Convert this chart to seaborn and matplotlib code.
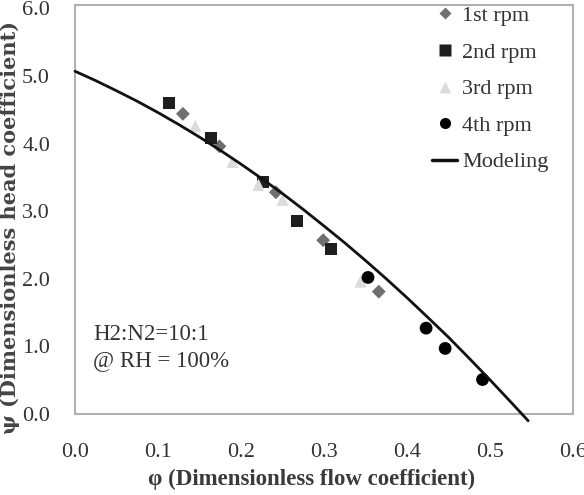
import numpy as np
import pandas as pd
import matplotlib
matplotlib.use("Agg")
import matplotlib.pyplot as plt
import seaborn as sns
from matplotlib.lines import Line2D

# ---- data ----
series_names = ["1st rpm", "2nd rpm", "3rd rpm", "4th rpm"]
phi_1st = [0.130, 0.174, 0.242, 0.299, 0.366]
psi_1st = [4.44, 3.96, 3.28, 2.57, 1.81]
phi_2nd = [0.113, 0.164, 0.226, 0.268, 0.308]
psi_2nd = [4.60, 4.08, 3.43, 2.86, 2.44]
phi_3rd = [0.145, 0.190, 0.221, 0.250, 0.344]
psi_3rd = [4.26, 3.73, 3.39, 3.17, 1.96]
phi_4th = [0.353, 0.423, 0.446, 0.491]
psi_4th = [2.02, 1.27, 0.97, 0.51]
phi_model = [0.0, 0.025, 0.05, 0.075, 0.10, 0.125, 0.15, 0.175, 0.20, 0.225, 0.25,
             0.275, 0.30, 0.325, 0.35, 0.375, 0.40, 0.425, 0.45, 0.475, 0.50, 0.525, 0.546]
psi_model = [5.07, 4.931, 4.781, 4.626, 4.459, 4.282, 4.096, 3.901, 3.696, 3.482, 3.260,
             3.026, 2.781, 2.532, 2.270, 2.000, 1.720, 1.430, 1.135, 0.823, 0.505, 0.178, -0.10]
x_ticks = [0.0, 0.1, 0.2, 0.3, 0.4, 0.5, 0.6]
y_ticks = [0.0, 1.0, 2.0, 3.0, 4.0, 5.0, 6.0]

df = pd.concat([
    pd.DataFrame({"phi": phi_1st, "psi": psi_1st, "series": "1st rpm"}),
    pd.DataFrame({"phi": phi_2nd, "psi": psi_2nd, "series": "2nd rpm"}),
    pd.DataFrame({"phi": phi_3rd, "psi": psi_3rd, "series": "3rd rpm"}),
    pd.DataFrame({"phi": phi_4th, "psi": psi_4th, "series": "4th rpm"}),
], ignore_index=True)
model_df = pd.DataFrame({"phi": phi_model, "psi": psi_model})

colors = {"1st rpm": "#6f6f6f", "2nd rpm": "#1e1e1e", "3rd rpm": "#dcdcdc", "4th rpm": "#000000"}
markers = {"1st rpm": "D", "2nd rpm": "s", "3rd rpm": "^", "4th rpm": "o"}
sizes = {"1st rpm": 50, "2nd rpm": 75, "3rd rpm": 80, "4th rpm": 85}

sns.set_style("white")
serif = ["Liberation Serif", "DejaVu Serif"]
plt.rcParams["font.family"] = serif

fig = plt.figure(figsize=(5.84, 4.95), dpi=100)
ax = fig.add_axes([75 / 584, 81 / 495, 498 / 584, 409 / 495])

sns.lineplot(data=model_df, x="phi", y="psi", ax=ax, color="#111111", lw=2.0,
             clip_on=False, zorder=3, legend=False)
for name in series_names:
    sub = df[df["series"] == name]
    sns.scatterplot(data=sub, x="phi", y="psi", ax=ax, color=colors[name],
                    marker=markers[name], s=sizes[name], edgecolor="none",
                    zorder=2, legend=False)

ax.set_xlim(0, 0.6)
ax.set_ylim(0, 6.05)
ax.set_xticks(x_ticks)
ax.set_yticks(y_ticks)
ax.set_xticklabels([f"{v:.1f}" for v in x_ticks])
ax.set_yticklabels([f"{v:.1f}" for v in y_ticks])
ax.tick_params(axis="both", direction="in", length=6, width=1.2, color="#aaaaaa",
               labelsize=16, labelcolor="#333333")
ax.tick_params(axis="x", pad=21)
ax.tick_params(axis="y", pad=18)
for sp in ax.spines.values():
    sp.set_color("#b0b0b0")
    sp.set_linewidth(1.5)
    sp.set_visible(True)

ax.set_xlabel("φ (Dimensionless flow coefficient)", fontsize=16.5, fontweight="bold",
              color="#3a3a3a", labelpad=5)
ax.xaxis.set_label_coords(0.476, -0.135)
ax.set_ylabel("ψ (Dimensionless head coefficient)", fontsize=15, fontweight="bold",
              color="#444444", labelpad=4, family=["DejaVu Serif"])
ax.yaxis.set_label_coords(-0.11, 0.455)

ax.text(0.036, 0.105, "H2:N2=10:1\n@ RH = 100%", transform=ax.transAxes,
        fontsize=16.5, color="#333333", linespacing=1.3, va="bottom", ha="left")

handles = [Line2D([], [], ls="none", marker=markers[n], color=colors[n],
                  markersize={"1st rpm": 6, "2nd rpm": 8, "3rd rpm": 8, "4th rpm": 8}[n],
                  markeredgecolor="none") for n in series_names]
handles.append(Line2D([], [], color="#111111", lw=2.5))
leg = ax.legend(handles, series_names + ["Modeling"], loc="upper left",
                bbox_to_anchor=(0.70, 1.02), frameon=False, fontsize=16,
                handlelength=1.1, handletextpad=0.25, labelspacing=0.72,
                borderaxespad=0)
for t in leg.get_texts():
    t.set_color("#333333")

fig.savefig("out.png", dpi=100)
